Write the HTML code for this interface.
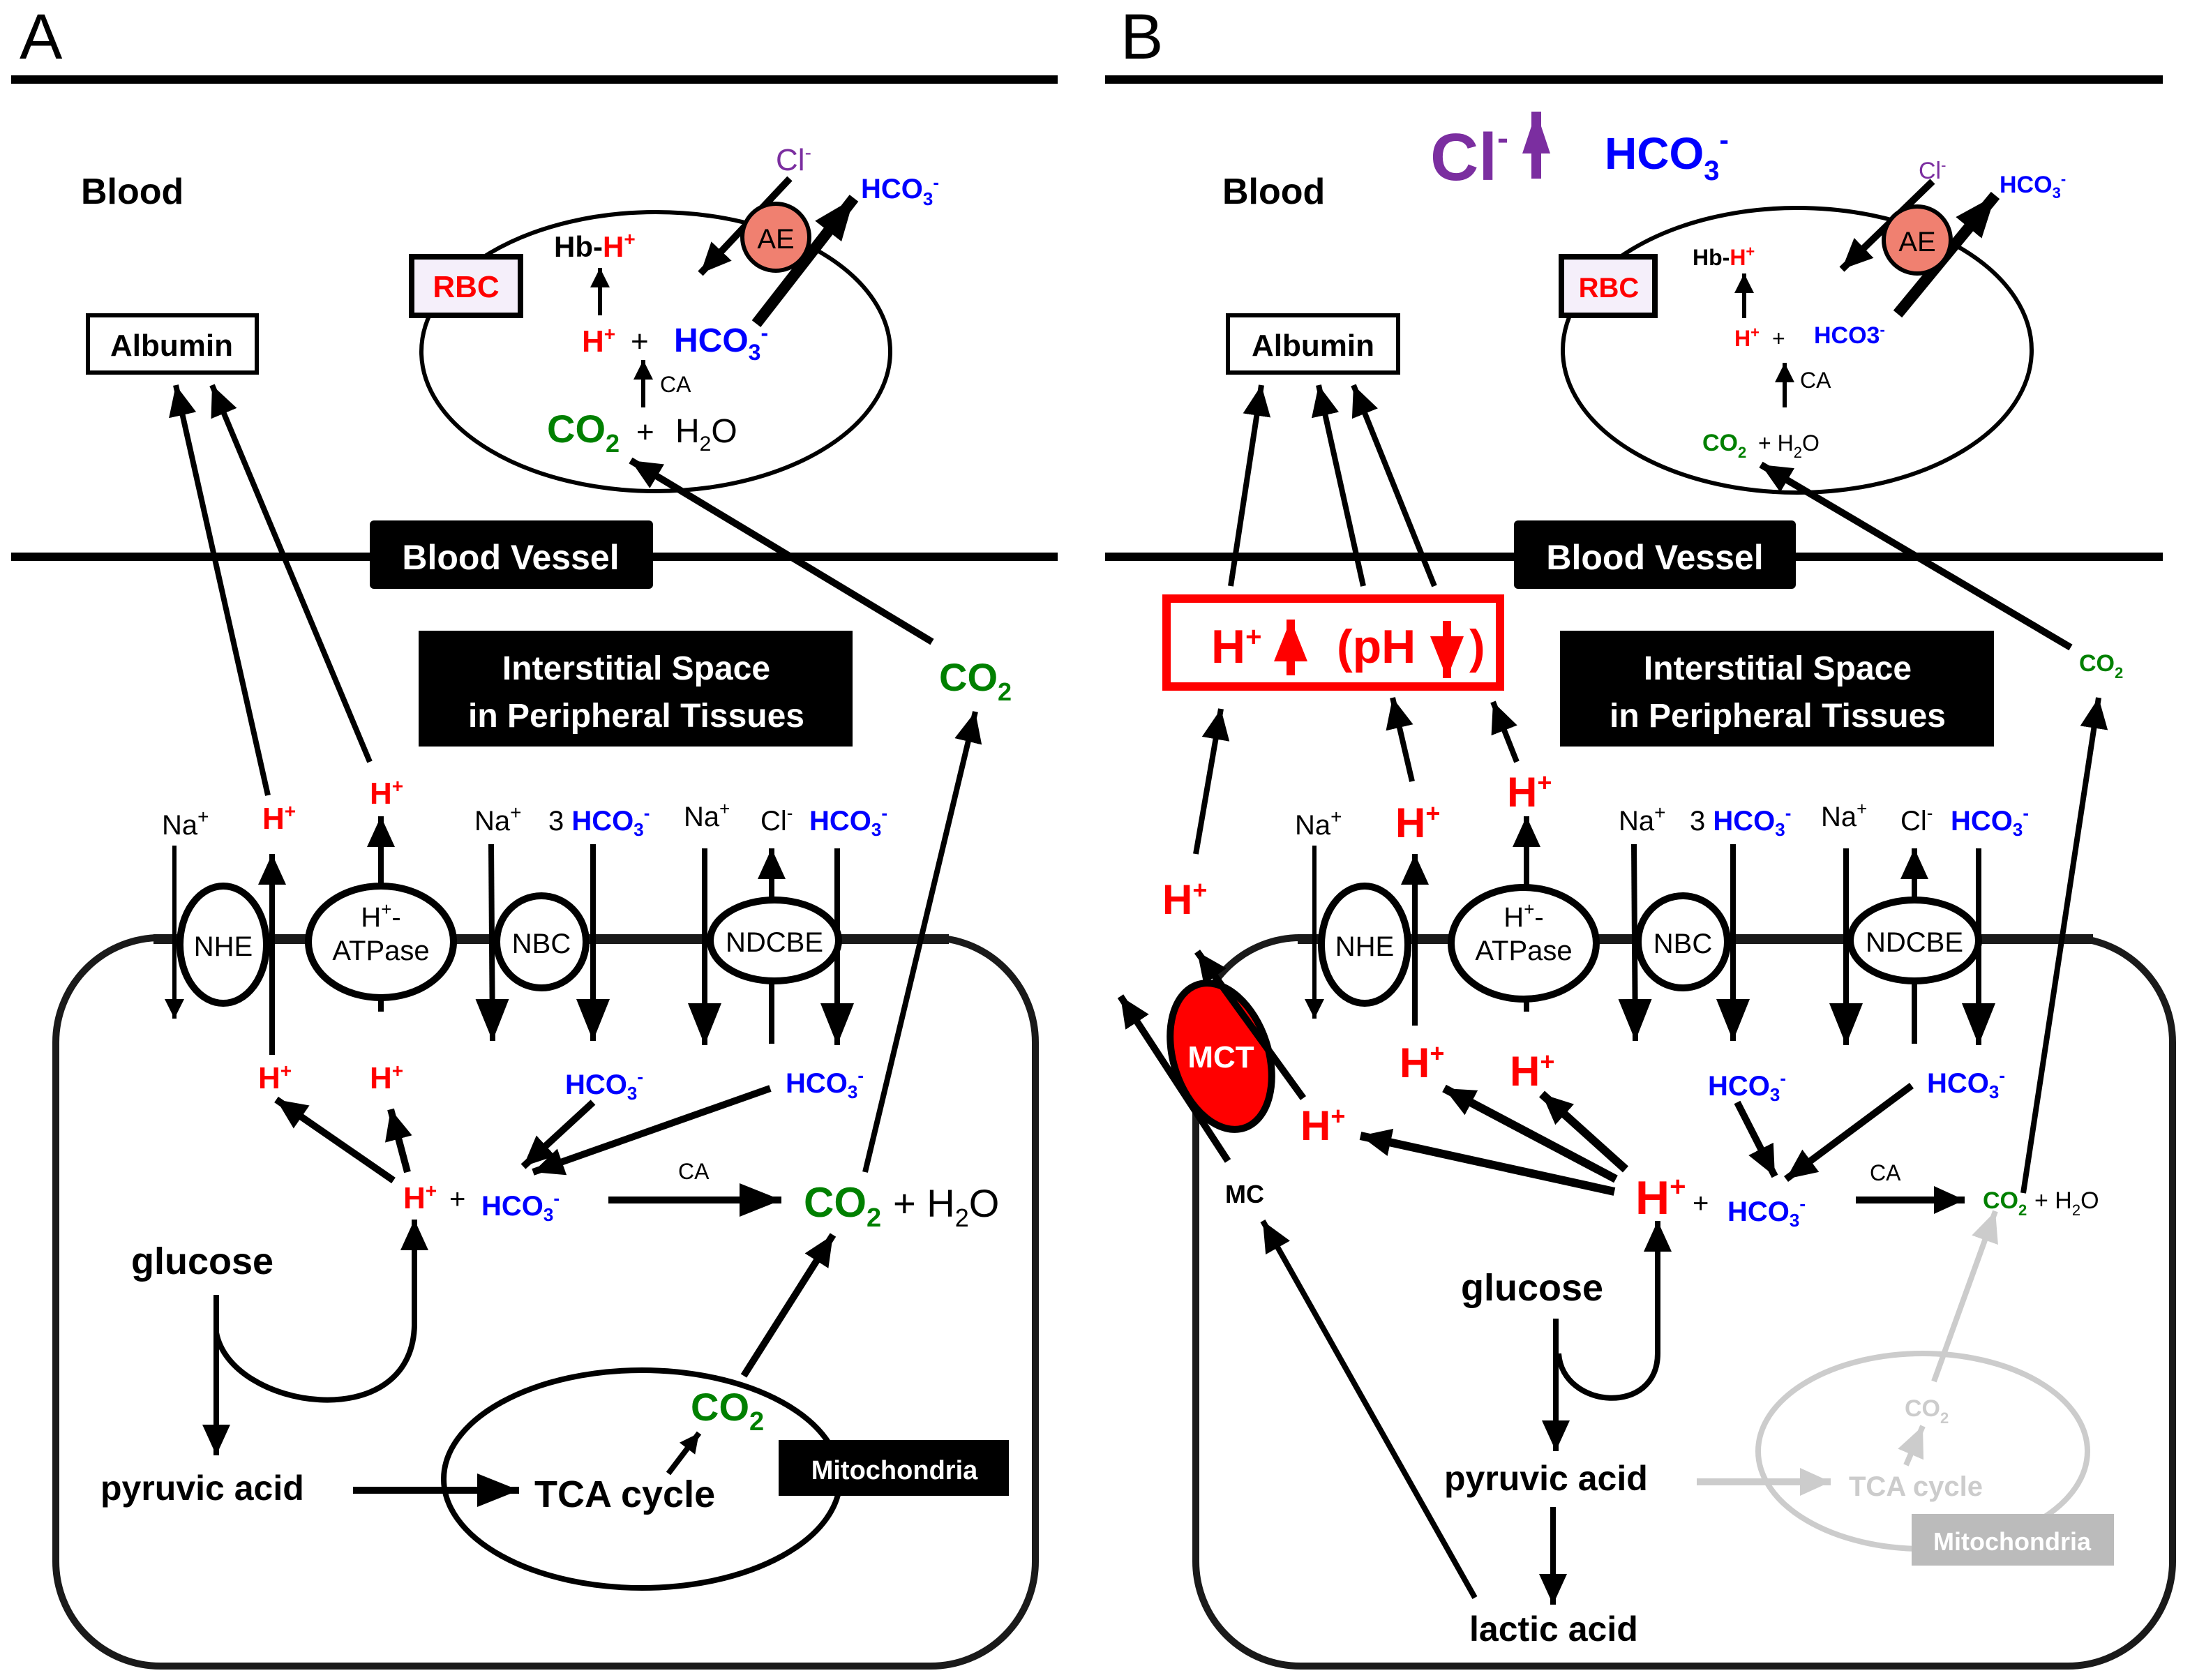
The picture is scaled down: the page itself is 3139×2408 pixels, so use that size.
<!DOCTYPE html>
<html><head><meta charset="utf-8"><style>
html,body{margin:0;padding:0;background:#fff}
svg{display:block}
text{font-family:"Liberation Sans",Arial,sans-serif}
.b{font-weight:bold}
</style></head><body>
<svg width="3139" height="2408" viewBox="0 0 1569.5 1204" xmlns="http://www.w3.org/2000/svg">
<defs>
<marker id="s" markerUnits="userSpaceOnUse" markerWidth="14" markerHeight="18" refX="14" refY="7" orient="auto"><path d="M0,0 L14,7 L0,14 z" fill="#000"/></marker>
<marker id="m" markerUnits="userSpaceOnUse" markerWidth="22" markerHeight="22" refX="22" refY="10" orient="auto"><path d="M0,0 L22,10 L0,20 z" fill="#000"/></marker>
<marker id="l" markerUnits="userSpaceOnUse" markerWidth="30" markerHeight="30" refX="30" refY="12" orient="auto"><path d="M0,0 L30,12 L0,24 z" fill="#000"/></marker>
<marker id="g" markerUnits="userSpaceOnUse" markerWidth="22" markerHeight="22" refX="22" refY="10" orient="auto"><path d="M0,0 L22,10 L0,20 z" fill="#ccc"/></marker>
<marker id="p" markerUnits="userSpaceOnUse" markerWidth="30" markerHeight="30" refX="30" refY="10" orient="auto"><path d="M0,0 L30,10 L0,20 z" fill="#7b2ea0"/></marker>
<marker id="r" markerUnits="userSpaceOnUse" markerWidth="30" markerHeight="30" refX="30" refY="12" orient="auto"><path d="M0,0 L30,12 L0,24 z" fill="#f00"/></marker>
</defs>

<!-- ============ PANEL A ============ -->
<text x="14" y="42" font-size="46">A</text>
<line x1="8" y1="57" x2="758" y2="57" stroke="#000" stroke-width="6"/>
<text x="58" y="146" font-size="26" class="b">Blood</text>
<line x1="8" y1="399" x2="758" y2="399" stroke="#000" stroke-width="6"/>
<rect x="265" y="373" width="203" height="49" rx="3" fill="#000"/>
<text x="366" y="408" font-size="25" class="b" fill="#fff" text-anchor="middle">Blood Vessel</text>

<ellipse cx="470" cy="252" rx="168" ry="100" fill="none" stroke="#000" stroke-width="3"/>
<rect x="295" y="184" width="78" height="42" fill="#f5effa" stroke="#000" stroke-width="4"/>
<text x="334" y="213" font-size="22" class="b" fill="#f00" text-anchor="middle">RBC</text>
<rect x="63" y="226" width="121" height="41" fill="#fff" stroke="#000" stroke-width="3"/>
<text x="123" y="255" font-size="22" class="b" text-anchor="middle">Albumin</text>
<text x="397" y="184" font-size="21" class="b">Hb-<tspan fill="#f00">H<tspan font-size="14" dy="-8">+</tspan></tspan></text>
<line x1="430" y1="226" x2="430" y2="192" stroke="#000" stroke-width="3" marker-end="url(#s)"/>
<text x="417" y="252" font-size="22" class="b" fill="#f00">H<tspan font-size="14" dy="-8">+</tspan></text>
<text x="452" y="252" font-size="22" fill="#000">+</text>
<text x="483" y="252" font-size="24" class="b" fill="#00f">HCO<tspan font-size="16" dy="6">3</tspan><tspan font-size="16" dy="-14">-</tspan></text>
<line x1="461" y1="292" x2="461" y2="258" stroke="#000" stroke-width="3" marker-end="url(#s)"/>
<text x="473" y="281" font-size="16">CA</text>
<text x="392" y="317" font-size="28" class="b" fill="#008000">CO<tspan font-size="18" dy="7">2</tspan></text>
<text x="456" y="317" font-size="22">+</text>
<text x="484" y="317" font-size="24">H<tspan font-size="15" dy="6">2</tspan><tspan dy="-6">O</tspan></text>
<line x1="566" y1="128" x2="502" y2="196" stroke="#000" stroke-width="5" marker-end="url(#m)"/>
<line x1="542" y1="232" x2="612" y2="142" stroke="#000" stroke-width="8" marker-end="url(#l)"/>
<circle cx="556" cy="170" r="24" fill="#f08070" stroke="#000" stroke-width="3"/>
<text x="556" y="178" font-size="20" text-anchor="middle">AE</text>
<text x="556" y="122" font-size="22" fill="#7b2ea0">Cl<tspan font-size="14" dy="-8">-</tspan></text>
<text x="617" y="142" font-size="20" class="b" fill="#00f">HCO<tspan font-size="13" dy="5">3</tspan><tspan font-size="13" dy="-12">-</tspan></text>

<rect x="300" y="452" width="311" height="83" fill="#000"/>
<text x="456" y="487" font-size="24" class="b" fill="#fff" text-anchor="middle">Interstitial Space</text>
<text x="456" y="521" font-size="24" class="b" fill="#fff" text-anchor="middle">in Peripheral Tissues</text>

<text x="673" y="495" font-size="28" class="b" fill="#008000">CO<tspan font-size="18" dy="7">2</tspan></text>
<line x1="668" y1="460" x2="452" y2="330" stroke="#000" stroke-width="5" marker-end="url(#m)"/>

<!-- cell -->
<rect x="40" y="672" width="702" height="522" rx="75" fill="none" stroke="#1a1a1a" stroke-width="5"/>
<line x1="110" y1="673" x2="680" y2="673" stroke="#1a1a1a" stroke-width="7"/>

<line x1="125" y1="606" x2="125" y2="730" stroke="#000" stroke-width="3" marker-end="url(#s)"/>
<line x1="195" y1="756" x2="195" y2="612" stroke="#000" stroke-width="4" marker-end="url(#m)"/>
<line x1="273" y1="725" x2="273" y2="585" stroke="#000" stroke-width="4" marker-end="url(#m)"/>
<line x1="352" y1="605" x2="353" y2="746" stroke="#000" stroke-width="4" marker-end="url(#l)"/>
<line x1="425" y1="605" x2="425" y2="746" stroke="#000" stroke-width="4" marker-end="url(#l)"/>
<line x1="505" y1="608" x2="505" y2="749" stroke="#000" stroke-width="4" marker-end="url(#l)"/>
<line x1="553" y1="748" x2="553" y2="608" stroke="#000" stroke-width="4" marker-end="url(#m)"/>
<line x1="600" y1="608" x2="600" y2="749" stroke="#000" stroke-width="4" marker-end="url(#l)"/>

<ellipse cx="160" cy="677" rx="31" ry="42" fill="#fff" stroke="#000" stroke-width="5"/>
<text x="160" y="685" font-size="20" text-anchor="middle">NHE</text>
<ellipse cx="273" cy="675" rx="52" ry="40" fill="#fff" stroke="#000" stroke-width="5"/>
<text x="273" y="664" font-size="20" text-anchor="middle">H<tspan font-size="13" dy="-8">+</tspan><tspan dy="8">-</tspan></text>
<text x="273" y="688" font-size="20" text-anchor="middle">ATPase</text>
<ellipse cx="388" cy="675" rx="32" ry="33" fill="#fff" stroke="#000" stroke-width="5"/>
<text x="388" y="683" font-size="20" text-anchor="middle">NBC</text>
<ellipse cx="555" cy="674" rx="46" ry="29" fill="#fff" stroke="#000" stroke-width="5"/>
<text x="555" y="682" font-size="20" text-anchor="middle">NDCBE</text>

<text x="116" y="598" font-size="20">Na<tspan font-size="14" dy="-8">+</tspan></text>
<text x="188" y="594" font-size="22" class="b" fill="#f00">H<tspan font-size="14" dy="-8">+</tspan></text>
<text x="265" y="576" font-size="22" class="b" fill="#f00">H<tspan font-size="14" dy="-8">+</tspan></text>
<text x="340" y="595" font-size="20">Na<tspan font-size="14" dy="-8">+</tspan></text>
<text x="393" y="595" font-size="20">3<tspan class="b" fill="#00f"> HCO<tspan font-size="13" dy="4">3</tspan><tspan font-size="13" dy="-12">-</tspan></tspan></text>
<text x="490" y="592" font-size="20">Na<tspan font-size="13" dy="-8">+</tspan></text>
<text x="545" y="595" font-size="20">Cl<tspan font-size="13" dy="-8">-</tspan></text>
<text x="580" y="595" font-size="20" class="b" fill="#00f">HCO<tspan font-size="13" dy="4">3</tspan><tspan font-size="13" dy="-12">-</tspan></text>

<text x="185" y="780" font-size="22" class="b" fill="#f00">H<tspan font-size="14" dy="-8">+</tspan></text>
<text x="265" y="780" font-size="22" class="b" fill="#f00">H<tspan font-size="14" dy="-8">+</tspan></text>
<text x="405" y="784" font-size="20" class="b" fill="#00f">HCO<tspan font-size="13" dy="4">3</tspan><tspan font-size="13" dy="-12">-</tspan></text>
<text x="563" y="783" font-size="20" class="b" fill="#00f">HCO<tspan font-size="13" dy="4">3</tspan><tspan font-size="13" dy="-12">-</tspan></text>

<line x1="282" y1="846" x2="198" y2="788" stroke="#000" stroke-width="5" marker-end="url(#m)"/>
<line x1="292" y1="840" x2="280" y2="795" stroke="#000" stroke-width="5" marker-end="url(#m)"/>
<line x1="425" y1="790" x2="375" y2="836" stroke="#000" stroke-width="5" marker-end="url(#m)"/>
<line x1="552" y1="780" x2="382" y2="840" stroke="#000" stroke-width="5" marker-end="url(#m)"/>

<text x="289" y="866" font-size="22" class="b" fill="#f00">H<tspan font-size="14" dy="-8">+</tspan></text>
<text x="322" y="866" font-size="20">+</text>
<text x="345" y="871" font-size="20" class="b" fill="#00f">HCO<tspan font-size="13" dy="4">3</tspan><tspan font-size="13" dy="-12">-</tspan></text>
<line x1="436" y1="860" x2="560" y2="860" stroke="#000" stroke-width="5" marker-end="url(#l)"/>
<text x="486" y="845" font-size="16">CA</text>
<text x="576" y="872" font-size="30" class="b" fill="#008000">CO<tspan font-size="19" dy="7">2</tspan></text>
<text x="640" y="872" font-size="28">+ H<tspan font-size="18" dy="7">2</tspan><tspan dy="-7">O</tspan></text>
<line x1="620" y1="840" x2="699" y2="510" stroke="#000" stroke-width="4" marker-end="url(#m)"/>

<line x1="192" y1="570" x2="126" y2="276" stroke="#000" stroke-width="4" marker-end="url(#m)"/>
<line x1="265" y1="546" x2="152" y2="276" stroke="#000" stroke-width="4" marker-end="url(#m)"/>

<text x="94" y="913" font-size="27" class="b">glucose</text>
<path d="M155,928 L155,1043" stroke="#000" stroke-width="4" fill="none" marker-end="url(#m)"/>
<path d="M155,955 C165,1010 295,1030 297,950 L297,874" stroke="#000" stroke-width="4" fill="none" marker-end="url(#m)"/>
<text x="72" y="1075" font-size="25" class="b">pyruvic acid</text>
<line x1="253" y1="1068" x2="372" y2="1068" stroke="#000" stroke-width="5" marker-end="url(#l)"/>
<ellipse cx="460" cy="1060" rx="142" ry="78" fill="none" stroke="#000" stroke-width="4"/>
<text x="383" y="1080" font-size="27" class="b">TCA cycle</text>
<text x="495" y="1018" font-size="28" class="b" fill="#008000">CO<tspan font-size="19" dy="7">2</tspan></text>
<line x1="479" y1="1056" x2="501" y2="1027" stroke="#000" stroke-width="4" marker-end="url(#s)"/>
<line x1="533" y1="986" x2="597" y2="885" stroke="#000" stroke-width="5" marker-end="url(#m)"/>
<rect x="558" y="1032" width="165" height="40" fill="#000"/>
<text x="641" y="1060" font-size="19" class="b" fill="#fff" text-anchor="middle">Mitochondria</text>

<!-- ============ PANEL B ============ -->
<text x="803" y="42" font-size="46">B</text>
<line x1="792" y1="57" x2="1550" y2="57" stroke="#000" stroke-width="6"/>
<text x="876" y="146" font-size="26" class="b">Blood</text>
<text x="1025" y="129" font-size="48" class="b" fill="#7b2ea0">Cl<tspan font-size="24" dy="-22">-</tspan></text>
<line x1="1101" y1="128" x2="1101" y2="80" stroke="#7b2ea0" stroke-width="7" marker-end="url(#p)"/>
<text x="1150" y="121" font-size="32" class="b" fill="#00f">HCO<tspan font-size="20" dy="8">3</tspan><tspan font-size="20" dy="-22">-</tspan></text>
<line x1="792" y1="399" x2="1550" y2="399" stroke="#000" stroke-width="6"/>
<rect x="1085" y="373" width="202" height="49" rx="3" fill="#000"/>
<text x="1186" y="408" font-size="25" class="b" fill="#fff" text-anchor="middle">Blood Vessel</text>

<ellipse cx="1288" cy="251" rx="168" ry="102" fill="none" stroke="#000" stroke-width="3"/>
<rect x="1119" y="184" width="67" height="42" fill="#f5effa" stroke="#000" stroke-width="4"/>
<text x="1153" y="213" font-size="20" class="b" fill="#f00" text-anchor="middle">RBC</text>
<rect x="880" y="226" width="122" height="41" fill="#fff" stroke="#000" stroke-width="3"/>
<text x="941" y="255" font-size="22" class="b" text-anchor="middle">Albumin</text>
<text x="1213" y="190" font-size="16" class="b">Hb-<tspan fill="#f00">H<tspan font-size="11" dy="-6">+</tspan></tspan></text>
<line x1="1250" y1="228" x2="1250" y2="196" stroke="#000" stroke-width="3" marker-end="url(#s)"/>
<text x="1243" y="248" font-size="16" class="b" fill="#f00">H<tspan font-size="11" dy="-6">+</tspan></text>
<text x="1270" y="248" font-size="16">+</text>
<text x="1300" y="246" font-size="17" class="b" fill="#00f">HCO3<tspan font-size="11" dy="-6">-</tspan></text>
<line x1="1279" y1="292" x2="1279" y2="260" stroke="#000" stroke-width="3" marker-end="url(#s)"/>
<text x="1290" y="278" font-size="16">CA</text>
<text x="1220" y="323" font-size="17" class="b" fill="#008000">CO<tspan font-size="11" dy="5">2</tspan></text>
<text x="1260" y="323" font-size="16">+ H<tspan font-size="11" dy="5">2</tspan><tspan dy="-5">O</tspan></text>
<line x1="1385" y1="130" x2="1320" y2="193" stroke="#000" stroke-width="5" marker-end="url(#m)"/>
<line x1="1360" y1="225" x2="1430" y2="140" stroke="#000" stroke-width="8" marker-end="url(#l)"/>
<circle cx="1374" cy="172" r="24" fill="#f08070" stroke="#000" stroke-width="3"/>
<text x="1374" y="180" font-size="20" text-anchor="middle">AE</text>
<text x="1375" y="128" font-size="17" fill="#7b2ea0">Cl<tspan font-size="11" dy="-6">-</tspan></text>
<text x="1433" y="138" font-size="17" class="b" fill="#00f">HCO<tspan font-size="11" dy="4">3</tspan><tspan font-size="11" dy="-10">-</tspan></text>

<line x1="882" y1="420" x2="904" y2="276" stroke="#000" stroke-width="4" marker-end="url(#m)"/>
<line x1="977" y1="420" x2="945" y2="276" stroke="#000" stroke-width="4" marker-end="url(#m)"/>
<line x1="1028" y1="420" x2="970" y2="276" stroke="#000" stroke-width="4" marker-end="url(#m)"/>

<rect x="836" y="429" width="239" height="63" fill="#fff" stroke="#f00" stroke-width="6"/>
<text x="868" y="475" font-size="34" class="b" fill="#f00">H<tspan font-size="20" dy="-12">+</tspan></text>
<line x1="925" y1="484" x2="925" y2="444" stroke="#f00" stroke-width="6" marker-end="url(#r)"/>
<text x="958" y="475" font-size="34" class="b" fill="#f00">(pH</text>
<line x1="1037" y1="445" x2="1037" y2="486" stroke="#f00" stroke-width="6" marker-end="url(#r)"/>
<text x="1053" y="475" font-size="34" class="b" fill="#f00">)</text>

<rect x="1118" y="452" width="311" height="83" fill="#000"/>
<text x="1274" y="487" font-size="24" class="b" fill="#fff" text-anchor="middle">Interstitial Space</text>
<text x="1274" y="521" font-size="24" class="b" fill="#fff" text-anchor="middle">in Peripheral Tissues</text>
<text x="1490" y="481" font-size="17" class="b" fill="#008000">CO<tspan font-size="11" dy="5">2</tspan></text>
<line x1="1484" y1="464" x2="1262" y2="333" stroke="#000" stroke-width="5" marker-end="url(#m)"/>

<!-- cell B -->
<rect x="857" y="672" width="700" height="522" rx="75" fill="none" stroke="#1a1a1a" stroke-width="5"/>
<line x1="930" y1="673" x2="1500" y2="673" stroke="#1a1a1a" stroke-width="7"/>

<line x1="942" y1="606" x2="942" y2="730" stroke="#000" stroke-width="3" marker-end="url(#s)"/>
<line x1="1014" y1="735" x2="1014" y2="612" stroke="#000" stroke-width="4" marker-end="url(#m)"/>
<line x1="1094" y1="725" x2="1094" y2="585" stroke="#000" stroke-width="4" marker-end="url(#m)"/>
<line x1="1171" y1="605" x2="1172" y2="746" stroke="#000" stroke-width="4" marker-end="url(#l)"/>
<line x1="1242" y1="605" x2="1242" y2="746" stroke="#000" stroke-width="4" marker-end="url(#l)"/>
<line x1="1323" y1="608" x2="1323" y2="749" stroke="#000" stroke-width="4" marker-end="url(#l)"/>
<line x1="1372" y1="748" x2="1372" y2="608" stroke="#000" stroke-width="4" marker-end="url(#m)"/>
<line x1="1418" y1="608" x2="1418" y2="749" stroke="#000" stroke-width="4" marker-end="url(#l)"/>

<ellipse cx="978" cy="677" rx="31" ry="42" fill="#fff" stroke="#000" stroke-width="5"/>
<text x="978" y="685" font-size="20" text-anchor="middle">NHE</text>
<ellipse cx="1092" cy="676" rx="52" ry="40" fill="#fff" stroke="#000" stroke-width="5"/>
<text x="1092" y="664" font-size="20" text-anchor="middle">H<tspan font-size="13" dy="-8">+</tspan><tspan dy="8">-</tspan></text>
<text x="1092" y="688" font-size="20" text-anchor="middle">ATPase</text>
<ellipse cx="1206" cy="675" rx="32" ry="33" fill="#fff" stroke="#000" stroke-width="5"/>
<text x="1206" y="683" font-size="20" text-anchor="middle">NBC</text>
<ellipse cx="1372" cy="674" rx="46" ry="29" fill="#fff" stroke="#000" stroke-width="5"/>
<text x="1372" y="682" font-size="20" text-anchor="middle">NDCBE</text>

<text x="928" y="598" font-size="20">Na<tspan font-size="14" dy="-8">+</tspan></text>
<text x="1000" y="600" font-size="30" class="b" fill="#f00">H<tspan font-size="18" dy="-11">+</tspan></text>
<text x="1080" y="578" font-size="30" class="b" fill="#f00">H<tspan font-size="18" dy="-11">+</tspan></text>
<text x="1160" y="595" font-size="20">Na<tspan font-size="14" dy="-8">+</tspan></text>
<text x="1211" y="595" font-size="20">3<tspan class="b" fill="#00f"> HCO<tspan font-size="13" dy="4">3</tspan><tspan font-size="13" dy="-12">-</tspan></tspan></text>
<text x="1305" y="592" font-size="20">Na<tspan font-size="13" dy="-8">+</tspan></text>
<text x="1362" y="595" font-size="20">Cl<tspan font-size="13" dy="-8">-</tspan></text>
<text x="1398" y="595" font-size="20" class="b" fill="#00f">HCO<tspan font-size="13" dy="4">3</tspan><tspan font-size="13" dy="-12">-</tspan></text>

<text x="833" y="655" font-size="30" class="b" fill="#f00">H<tspan font-size="18" dy="-11">+</tspan></text>
<line x1="857" y1="612" x2="875" y2="508" stroke="#000" stroke-width="4" marker-end="url(#m)"/>
<line x1="1012" y1="560" x2="998" y2="500" stroke="#000" stroke-width="4" marker-end="url(#m)"/>
<line x1="1087" y1="546" x2="1070" y2="503" stroke="#000" stroke-width="4" marker-end="url(#m)"/>

<text x="1003" y="772" font-size="30" class="b" fill="#f00">H<tspan font-size="18" dy="-11">+</tspan></text>
<text x="1082" y="778" font-size="30" class="b" fill="#f00">H<tspan font-size="18" dy="-11">+</tspan></text>
<text x="932" y="817" font-size="30" class="b" fill="#f00">H<tspan font-size="18" dy="-11">+</tspan></text>
<text x="1224" y="785" font-size="20" class="b" fill="#00f">HCO<tspan font-size="13" dy="4">3</tspan><tspan font-size="13" dy="-12">-</tspan></text>
<text x="1381" y="783" font-size="20" class="b" fill="#00f">HCO<tspan font-size="13" dy="4">3</tspan><tspan font-size="13" dy="-12">-</tspan></text>

<!-- MCT -->
<line x1="880" y1="832" x2="803" y2="714" stroke="#000" stroke-width="5" marker-end="url(#m)"/>
<ellipse cx="875" cy="757" rx="34" ry="54" transform="rotate(-18 875 757)" fill="#f00" stroke="#000" stroke-width="5"/>
<text x="875" y="765" font-size="22" class="b" fill="#fff" text-anchor="middle">MCT</text>
<line x1="934" y1="787" x2="858" y2="682" stroke="#000" stroke-width="5" marker-end="url(#m)"/>
<text x="878" y="862" font-size="18" class="b">MC</text>
<line x1="1057" y1="1145" x2="905" y2="875" stroke="#000" stroke-width="4" marker-end="url(#m)"/>

<line x1="1157" y1="854" x2="975" y2="814" stroke="#000" stroke-width="6" marker-end="url(#m)"/>
<line x1="1158" y1="845" x2="1035" y2="780" stroke="#000" stroke-width="6" marker-end="url(#m)"/>
<line x1="1165" y1="838" x2="1105" y2="784" stroke="#000" stroke-width="6" marker-end="url(#m)"/>
<line x1="1245" y1="790" x2="1272" y2="843" stroke="#000" stroke-width="5" marker-end="url(#m)"/>
<line x1="1370" y1="778" x2="1280" y2="845" stroke="#000" stroke-width="5" marker-end="url(#m)"/>

<text x="1172" y="870" font-size="34" class="b" fill="#f00">H<tspan font-size="20" dy="-13">+</tspan></text>
<text x="1213" y="869" font-size="20">+</text>
<text x="1238" y="875" font-size="20" class="b" fill="#00f">HCO<tspan font-size="13" dy="4">3</tspan><tspan font-size="13" dy="-12">-</tspan></text>
<line x1="1330" y1="860" x2="1408" y2="860" stroke="#000" stroke-width="5" marker-end="url(#m)"/>
<text x="1340" y="846" font-size="16">CA</text>
<text x="1421" y="866" font-size="17" class="b" fill="#008000">CO<tspan font-size="11" dy="5">2</tspan></text>
<text x="1458" y="866" font-size="17">+ H<tspan font-size="11" dy="5">2</tspan><tspan dy="-5">O</tspan></text>
<line x1="1450" y1="855" x2="1504" y2="500" stroke="#000" stroke-width="4" marker-end="url(#m)"/>

<text x="1047" y="932" font-size="27" class="b">glucose</text>
<path d="M1115,945 L1115,1040" stroke="#000" stroke-width="4" fill="none" marker-end="url(#m)"/>
<path d="M1117,970 C1120,1010 1188,1015 1188,970 L1188,875" stroke="#000" stroke-width="4" fill="none" marker-end="url(#m)"/>
<text x="1035" y="1068" font-size="25" class="b">pyruvic acid</text>
<line x1="1113" y1="1080" x2="1113" y2="1150" stroke="#000" stroke-width="4" marker-end="url(#m)"/>
<text x="1053" y="1176" font-size="25" class="b">lactic acid</text>

<ellipse cx="1378" cy="1040" rx="118" ry="70" fill="none" stroke="#ccc" stroke-width="4"/>
<line x1="1216" y1="1062" x2="1312" y2="1062" stroke="#ccc" stroke-width="5" marker-end="url(#g)"/>
<text x="1325" y="1072" font-size="20" class="b" fill="#ccc">TCA cycle</text>
<text x="1365" y="1015" font-size="17" class="b" fill="#ccc">CO<tspan font-size="11" dy="5">2</tspan></text>
<line x1="1366" y1="1050" x2="1378" y2="1022" stroke="#ccc" stroke-width="4" marker-end="url(#g)"/>
<line x1="1386" y1="990" x2="1430" y2="868" stroke="#ccc" stroke-width="4" marker-end="url(#g)"/>
<rect x="1370" y="1085" width="145" height="37" fill="#bbb"/>
<text x="1442" y="1111" font-size="18" class="b" fill="#fff" text-anchor="middle">Mitochondria</text>
</svg>
</body></html>
